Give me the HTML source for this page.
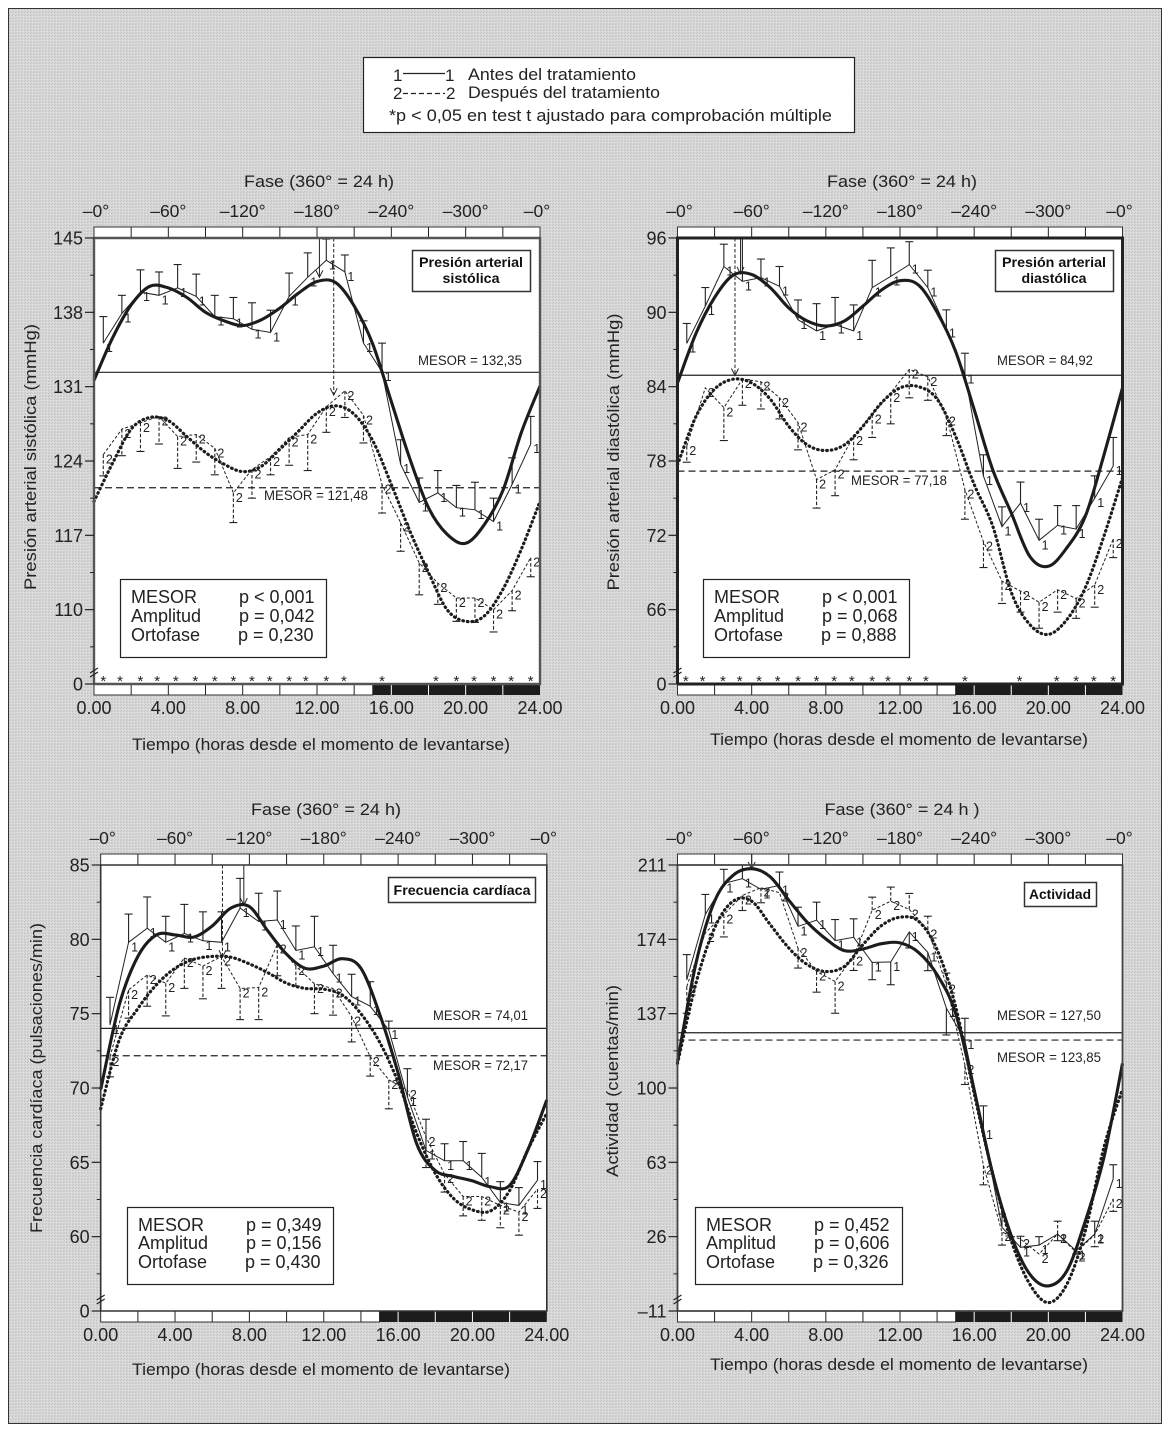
<!DOCTYPE html>
<html lang="es">
<head>
<meta charset="utf-8">
<title>Presión arterial, frecuencia cardíaca y actividad</title>
<style>
html,body{margin:0;padding:0;background:#fff;}
svg{display:block;}
text{font-family:"Liberation Sans",sans-serif;fill:#222;}
.t18{font-size:18px;}
.t17{font-size:17px;}
.mesor{font-size:13.5px;}
.bold{font-weight:bold;font-size:14px;fill:#111;}
</style>
</head>
<body>
<svg id="figure" xmlns="http://www.w3.org/2000/svg" width="1168" height="1429" viewBox="0 0 1168 1429">
  <defs>
    <pattern id="halftone" width="3" height="3" patternUnits="userSpaceOnUse">
      <rect width="3" height="3" fill="#d6d6d6"/>
      <rect x="0" y="0" width="1" height="1" fill="#c2c2c2"/>
      <rect x="2" y="1" width="1" height="1" fill="#e4e4e4"/>
      <rect x="1" y="2" width="1" height="1" fill="#c8c8c8"/>
    </pattern>
  </defs>
  <rect x="8.5" y="8.5" width="1153" height="1415" fill="url(#halftone)" stroke="#333" stroke-width="1"/>

  <g>
    <rect x="363.5" y="57.5" width="491" height="75" fill="#fff" stroke="#222" stroke-width="1.2"/>
    <text class="t17" x="393" y="81">1</text>
    <line x1="403" y1="73.5" x2="445" y2="73.5" stroke="#222" stroke-width="1.2"/>
    <text class="t17" x="445" y="81">1</text>
    <text class="t17" x="468" y="80" textLength="168" lengthAdjust="spacingAndGlyphs">Antes del tratamiento</text>
    <text class="t17" x="393" y="99">2</text>
    <line x1="403" y1="93.5" x2="445" y2="93.5" stroke="#222" stroke-width="1.3" stroke-dasharray="5 3"/>
    <text class="t17" x="446" y="99">2</text>
    <text class="t17" x="468" y="98" textLength="192" lengthAdjust="spacingAndGlyphs">Después del tratamiento</text>
    <text class="t17" x="389" y="121" textLength="443" lengthAdjust="spacingAndGlyphs">*p &lt; 0,05 en test t ajustado para comprobación múltiple</text>
  </g>

  <g id="panel-a"></g>
  <g id="panel-b"></g>
  <g id="panel-c"></g>
  <g id="panel-d"></g>

  <g>
    <text class="t17" x="319" y="187" text-anchor="middle" textLength="150" lengthAdjust="spacingAndGlyphs">Fase (360° = 24 h)</text>
    <text class="t17" x="321" y="750" text-anchor="middle" textLength="378" lengthAdjust="spacingAndGlyphs">Tiempo (horas desde el momento de levantarse)</text>
    <text class="t17" transform="translate(36,457) rotate(-90)" text-anchor="middle" textLength="266" lengthAdjust="spacingAndGlyphs">Presión arterial sistólica (mmHg)</text>
    <rect x="412.5" y="250.5" width="118" height="41" fill="#fff" stroke="#333" stroke-width="1.5"/>
    <text class="bold" x="471" y="267" text-anchor="middle" textLength="104" lengthAdjust="spacingAndGlyphs">Presión arterial</text>
    <text class="bold" x="471" y="283" text-anchor="middle" textLength="57" lengthAdjust="spacingAndGlyphs">sistólica</text>
    <text class="mesor" x="418" y="365" textLength="104" lengthAdjust="spacingAndGlyphs">MESOR = 132,35</text>
    <text class="mesor" x="264" y="500" textLength="104" lengthAdjust="spacingAndGlyphs">MESOR = 121,48</text>
    <rect x="120.5" y="579.5" width="206" height="78" fill="#fff" stroke="#222" stroke-width="1.2"/>
    <text class="t18" x="131" y="603">MESOR</text>
    <text class="t18" x="131" y="622">Amplitud</text>
    <text class="t18" x="131" y="641">Ortofase</text>
    <text class="t18" x="239" y="603">p &lt; 0,001</text>
    <text class="t18" x="239" y="622">p = 0,042</text>
    <text class="t18" x="238" y="641">p = 0,230</text>
  </g>

  <g>
    <text class="t17" x="902" y="187" text-anchor="middle" textLength="150" lengthAdjust="spacingAndGlyphs">Fase (360° = 24 h)</text>
    <text class="t17" x="899" y="745" text-anchor="middle" textLength="378" lengthAdjust="spacingAndGlyphs">Tiempo (horas desde el momento de levantarse)</text>
    <text class="t17" transform="translate(619,452) rotate(-90)" text-anchor="middle" textLength="277" lengthAdjust="spacingAndGlyphs">Presión arterial diastólica (mmHg)</text>
    <rect x="995.5" y="250.5" width="118" height="41" fill="#fff" stroke="#333" stroke-width="1.5"/>
    <text class="bold" x="1054" y="267" text-anchor="middle" textLength="104" lengthAdjust="spacingAndGlyphs">Presión arterial</text>
    <text class="bold" x="1054" y="283" text-anchor="middle" textLength="65" lengthAdjust="spacingAndGlyphs">diastólica</text>
    <text class="mesor" x="997" y="365" textLength="96" lengthAdjust="spacingAndGlyphs">MESOR = 84,92</text>
    <text class="mesor" x="851" y="485" textLength="96" lengthAdjust="spacingAndGlyphs">MESOR = 77,18</text>
    <rect x="703.5" y="579.5" width="206" height="78" fill="#fff" stroke="#222" stroke-width="1.2"/>
    <text class="t18" x="714" y="603">MESOR</text>
    <text class="t18" x="714" y="622">Amplitud</text>
    <text class="t18" x="714" y="641">Ortofase</text>
    <text class="t18" x="822" y="603">p &lt; 0,001</text>
    <text class="t18" x="822" y="622">p = 0,068</text>
    <text class="t18" x="821" y="641">p = 0,888</text>
  </g>

  <g>
    <text class="t17" x="326" y="815" text-anchor="middle" textLength="150" lengthAdjust="spacingAndGlyphs">Fase (360° = 24 h)</text>
    <text class="t17" x="321" y="1375" text-anchor="middle" textLength="378" lengthAdjust="spacingAndGlyphs">Tiempo (horas desde el momento de levantarse)</text>
    <text class="t17" transform="translate(42,1078) rotate(-90)" text-anchor="middle" textLength="310" lengthAdjust="spacingAndGlyphs">Frecuencia cardíaca (pulsaciones/min)</text>
    <rect x="388.5" y="877.5" width="147" height="25" fill="#fff" stroke="#333" stroke-width="1.5"/>
    <text class="bold" x="462" y="895" text-anchor="middle" textLength="137" lengthAdjust="spacingAndGlyphs">Frecuencia cardíaca</text>
    <text class="mesor" x="433" y="1020" textLength="95" lengthAdjust="spacingAndGlyphs">MESOR = 74,01</text>
    <text class="mesor" x="433" y="1070" textLength="95" lengthAdjust="spacingAndGlyphs">MESOR = 72,17</text>
    <rect x="127.5" y="1207.5" width="206" height="77" fill="#fff" stroke="#222" stroke-width="1.2"/>
    <text class="t18" x="138" y="1231">MESOR</text>
    <text class="t18" x="138" y="1249">Amplitud</text>
    <text class="t18" x="138" y="1268">Ortofase</text>
    <text class="t18" x="246" y="1231">p = 0,349</text>
    <text class="t18" x="246" y="1249">p = 0,156</text>
    <text class="t18" x="245" y="1268">p = 0,430</text>
  </g>

  <g>
    <text class="t17" x="902" y="815" text-anchor="middle" textLength="155" lengthAdjust="spacingAndGlyphs">Fase (360° = 24 h )</text>
    <text class="t17" x="899" y="1370" text-anchor="middle" textLength="378" lengthAdjust="spacingAndGlyphs">Tiempo (horas desde el momento de levantarse)</text>
    <text class="t17" transform="translate(618,1081) rotate(-90)" text-anchor="middle" textLength="192" lengthAdjust="spacingAndGlyphs">Actividad (cuentas/min)</text>
    <rect x="1024.5" y="882.5" width="72" height="24" fill="#fff" stroke="#333" stroke-width="1.5"/>
    <text class="bold" x="1060" y="899" text-anchor="middle" textLength="62" lengthAdjust="spacingAndGlyphs">Actividad</text>
    <text class="mesor" x="997" y="1020" textLength="104" lengthAdjust="spacingAndGlyphs">MESOR = 127,50</text>
    <text class="mesor" x="997" y="1062" textLength="104" lengthAdjust="spacingAndGlyphs">MESOR = 123,85</text>
    <rect x="695.5" y="1207.5" width="207" height="77" fill="#fff" stroke="#222" stroke-width="1.2"/>
    <text class="t18" x="706" y="1231">MESOR</text>
    <text class="t18" x="706" y="1249">Amplitud</text>
    <text class="t18" x="706" y="1268">Ortofase</text>
    <text class="t18" x="814" y="1231">p = 0,452</text>
    <text class="t18" x="814" y="1249">p = 0,606</text>
    <text class="t18" x="813" y="1268">p = 0,326</text>
  </g>
</svg>

<script>
// Shared categories and tick labels
const sampleHours = [0.5,1.5,2.5,3.5,4.5,5.5,6.5,7.5,8.5,9.5,10.5,11.5,12.5,13.5,14.5,15.5,16.5,17.5,18.5,19.5,20.5,21.5,22.5,23.5];
const fitHours = [0,1,2,3,4,5,6,7,8,9,10,11,12,13,14,15,16,17,18,19,20,21,22,23,24];
const timeTicks = [0,4,8,12,16,20,24];
const timeTickLabels = ['0.00','4.00','8.00','12.00','16.00','20.00','24.00'];
const phaseTickLabels = ['–0°','–60°','–120°','–180°','–240°','–300°','–0°'];
const bandTicks = [2,4,6,8,10,12,14,16,18,20,22];
const nightStartHour = [15];

// Systolic blood pressure
const sysTicks = [145,138,131,124,117,110,103];
const sysTickLabels = ['145','138','131','124','117','110','0'];
const sysBefore = [135.1,137.9,139.9,139.6,140.3,139.5,137.6,137.4,136.4,136.1,139.5,141.3,142.9,141.8,135.1,132.4,123.7,120.1,121,119.6,119.4,118.3,121.8,125.6];
const sysBeforeCaps = [137.6,139.6,142,141.8,142.5,141.6,139.6,139.4,138.9,138.2,141.7,143.6,144.9,143.4,137.2,135.1,126,122.4,123.1,121.7,122,120.5,124.3,128.2];
const sysAfter = [124.6,127,127.6,128.2,126.3,126.5,125.2,121,123.2,124.4,126.2,126.5,129.1,130.6,128.3,121.8,118.2,114.4,112.5,111.1,111.1,110,111.8,114.9];
const sysAfterCaps = [122.6,124.5,124.9,125.6,123.3,123.9,122.7,118.2,120.5,122.7,123.6,123.1,126.7,128.1,125.7,119.1,115.5,111.4,110.5,108.9,108.8,107.9,109.9,113.1];
const sysFitBefore = [131.6,135.6,138.7,140.45,140.3,139.4,138,137.2,136.75,137.3,138.4,139.8,140.9,140.8,138.6,135,129.6,124.2,119.6,117.1,116.25,118,121.2,126.7,131.05];
const sysFitAfter = [120.2,123.8,127,128.1,127.8,126.3,124.8,123.7,123,123.5,125.1,126.8,128.5,129.2,128.4,125.9,121.8,117.4,113.5,110,108.9,109.4,111.9,115.7,120.2];
const sysMesors = [132.35,121.48];
const sysSignificantHours = [0.5,1.4,2.5,3.4,4.4,5.45,6.5,7.5,8.5,9.45,10.5,11.4,12.5,13.45,15.5,18.4,19.5,20.45,21.5,22.45,23.5];
const sysPeakHours = [12.13,12.9];
const sysPeakValues = [141.3,130.2];

// Diastolic blood pressure
const diaTicks = [96,90,84,78,72,66,60];
const diaTickLabels = ['96','90','84','78','72','66','0'];
const diaBefore = [87.5,90.5,93.7,92.5,92.8,92.1,89.4,88.5,89,88.5,92,92.9,93.85,92,88.7,85,76.8,72.7,74.6,71.6,72.8,72.5,75,77.6];
const diaBeforeCaps = [89.1,92,95.5,96,94.3,93.7,91,90.7,91.2,90.6,94.2,95.2,95.7,93.4,90.2,86.7,78.5,74.3,76.3,73.3,74.4,74.4,76.8,79.9];
const diaAfter = [79.2,83.9,82.3,84.6,84.4,83.1,81.1,76.5,77.3,80,81.75,83.5,85.4,84.8,81.6,75.7,71.5,68.3,67.5,66.6,67.6,66.9,68,71.7];
const diaAfterCaps = [77.9,null,79.65,82.5,82.2,81.4,78.9,74.2,75.2,78.1,79.9,81,83.1,82.9,80.05,73.3,69.4,66.5,65.8,64.5,65.8,65.3,66.2,70.2];
const diaFitBefore = [84.3,88.3,91.2,93,93.05,92,90.35,89.3,88.9,89.3,90.5,91.8,92.55,92.2,90,86.85,82.15,77.3,73.8,70.3,69.5,71,73.55,78.5,83.9];
const diaFitAfter = [77.7,81.6,83.8,84.6,84.3,83,80.8,79.3,78.85,79.3,80.8,82.7,83.9,84,83,80,76.1,72.75,67.4,64.8,64,65.2,67.8,71.95,76.65];
const diaMesors = [84.92,77.18];
const diaSignificantHours = [0.45,1.35,2.45,3.35,4.4,5.4,6.5,7.5,8.45,9.4,10.5,11.35,12.5,13.4,15.5,18.45,20.45,21.5,22.45,23.5];
const diaPeakHours = [3.4,3.1];
const diaPeakValues = [93.1,84.9];

// Heart rate
const hrTicks = [85,80,75,70,65,60,55];
const hrTickLabels = ['85','80','75','70','65','60','0'];
const hrBefore = [74.25,79.8,80.75,79.8,80.4,79.9,79.8,82.1,81.2,81.3,79.25,79.5,77.7,76.15,75.5,73.9,69.4,65.8,65.1,65.1,64,62.3,62.1,63.8];
const hrBeforeCaps = [76.1,81.7,82.85,81.55,82.35,81.85,81.85,84.1,83.1,83.25,80.9,81.55,79.6,77.65,77.15,74.5,71.3,67.9,66.25,66.4,65.6,63.7,63.3,65.05];
const hrAfter = [72.1,76.6,77.6,77.05,78.75,78.2,78.85,76.7,76.75,79.65,78.2,77,76.7,74.8,72.1,70.55,69.85,66.7,64.2,62.7,62.7,62.1,61.65,63.2];
const hrAfterCaps = [70.75,74.7,75.5,74.85,76.7,76,76.7,74.6,74.6,77.55,76.85,75,74.9,73.1,70.8,68.6,null,64.65,63,61.4,61.1,60.6,60.1,61.9];
const hrFitBefore = [69.9,75.6,78.85,80.3,80.3,80.15,80.9,82.1,82.2,80.55,79,78.05,78.2,78.7,78.05,75,71,66.25,64.45,64.05,63.75,63.35,63.45,65.9,69.2];
const hrFitAfter = [68.6,73.25,75.35,76.95,78.05,78.65,78.85,78.8,78.35,77.75,77.05,76.7,76.65,76.25,75,73.1,70.4,66.95,64.25,62.55,61.8,61.75,63.1,65.9,68.3];
const hrMesors = [74.01,72.17];
const hrSignificantHours = [];
const hrPeakHours = [7.7,6.55];
const hrPeakValues = [82.3,78.8];

// Activity
const actTicks = [211,174,137,100,63,26,-11];
const actTickLabels = ['211','174','137','100','63','26','–11'];
const actBefore = [153.9,186.35,201.85,204.2,198.85,200.85,180.5,183.5,173.35,175,162.5,162.7,177.7,167.5,139.7,123.9,79,30.6,20.7,21.8,27.3,19,27.3,54.8];
const actBeforeCaps = [166.4,196.35,208.85,211,null,207.5,190,192.5,183.85,184.2,153.9,151.4,169.7,158.4,126.4,134.7,91.1,37.3,26.2,26,24,17.3,33.7,61.8];
const actAfter = [150.55,177.2,186.35,195.85,199.7,197.2,169.7,158,153,165.5,188.5,193,188.85,178.85,151.4,111.4,61.5,28.2,24.8,17.3,27.3,18.2,27,44.8];
const actAfterCaps = [137.2,null,175.2,188.35,192.2,null,159.7,147.7,137.2,158.5,195,200,196.85,185.5,157.2,101.75,51.8,21.8,null,null,33.7,null,21,38.6];
const actFitBefore = [113.1,162.2,193,205.85,209.15,205.15,193.5,182.5,174.2,168.4,169.2,171.85,172.2,167.5,156.4,137.2,98.9,57.3,26.5,7.3,1.5,9,33.9,65.6,112.25];
const actFitAfter = [112.25,152.2,179.7,193,193,181.35,169.7,161.4,158,160.55,171.35,180.85,185,183,168.85,140.55,97.3,57.3,24,2.35,-6.8,2.35,29,70.6,99.5];
const actMesors = [127.5,123.85];
const actSignificantHours = [];
const actPeakHours = [4];
const actPeakValues = [209];

const NS = 'http://www.w3.org/2000/svg';
const INK = '#222';

function mk(tag, attrs, parent) {
  const el = document.createElementNS(NS, tag);
  for (const k in attrs) el.setAttribute(k, attrs[k]);
  parent.appendChild(el);
  return el;
}

function smoothPath(pts) {
  let d = 'M' + pts[0][0].toFixed(1) + ' ' + pts[0][1].toFixed(1);
  for (let i = 0; i < pts.length - 1; i++) {
    const p0 = pts[Math.max(0, i - 1)], p1 = pts[i], p2 = pts[i + 1], p3 = pts[Math.min(pts.length - 1, i + 2)];
    const c1x = p1[0] + (p2[0] - p0[0]) / 6, c1y = p1[1] + (p2[1] - p0[1]) / 6;
    const c2x = p2[0] - (p3[0] - p1[0]) / 6, c2y = p2[1] - (p3[1] - p1[1]) / 6;
    d += 'C' + c1x.toFixed(1) + ' ' + c1y.toFixed(1) + ' ' + c2x.toFixed(1) + ' ' + c2y.toFixed(1) + ' ' + p2[0].toFixed(1) + ' ' + p2[1].toFixed(1);
  }
  return d;
}

function drawPanel(cfg) {
  const g = document.getElementById(cfg.id);
  const xAt = function (h) { return cfg.left + h / 24 * (cfg.right - cfg.left); };
  const yMax = cfg.ticks[0];
  const yMin = cfg.ticks[cfg.ticks.length - 1];
  const yAt = function (v) { return cfg.top + (yMax - v) / (yMax - yMin) * (cfg.bottom - cfg.top); };
  const bandH = 11;

  const plot = mk('rect', {x: cfg.left, y: cfg.top, width: cfg.right - cfg.left, height: cfg.bottom - cfg.top, fill: '#fff'}, g);
  
  

  const topBand = mk('rect', {x: cfg.left, y: cfg.top - bandH, width: cfg.right - cfg.left, height: bandH, fill: '#fff', stroke: '#333', 'stroke-width': 1}, g);
  
  

  const dayBand = mk('rect', {x: cfg.left, y: cfg.bottom, width: xAt(nightStartHour[0]) - cfg.left, height: bandH, fill: '#fff', stroke: '#333', 'stroke-width': 1}, g);
  
  

  const nightBand = mk('rect', {x: xAt(nightStartHour[0]), y: cfg.bottom, width: cfg.right - xAt(nightStartHour[0]), height: bandH, fill: '#1c1c1c'}, g);
  
  

  bandTicks.forEach(function (h) {
    const tickTop = mk('line', {x1: xAt(h), x2: xAt(h), y1: cfg.top - bandH, y2: cfg.top, stroke: INK, 'stroke-width': 1}, g);
    
    
    const tickBottom = mk('line', {x1: xAt(h), x2: xAt(h), y1: cfg.bottom, y2: cfg.bottom + bandH, stroke: h > nightStartHour[0] ? '#fff' : INK, 'stroke-width': 1}, g);
    
    
  });

  // MESOR lines
  cfg.mesors.forEach(function (m, i) {
    const line = mk('line', {x1: cfg.left, x2: cfg.right, y1: yAt(m), y2: yAt(m), stroke: INK, 'stroke-width': 1.2}, g);
    if (i === 1) line.setAttribute('stroke-dasharray', '7 4');
    
    
  });

  // Acrophase markers
  cfg.peakHours.forEach(function (h, i) {
    const px = xAt(h), py = yAt(cfg.peakValues[i]);
    const drop = mk('line', {x1: px, x2: px, y1: cfg.top - (cfg.id === 'panel-d' ? 11 : 0), y2: py, stroke: INK, 'stroke-width': 1}, g);
    if (i === 1) drop.setAttribute('stroke-dasharray', '3.5 2');
    
    
    const head = mk('path', {d: 'M' + (px - 3.5) + ' ' + (py - 7) + 'L' + px + ' ' + py + 'L' + (px + 3.5) + ' ' + (py - 7), fill: 'none', stroke: INK, 'stroke-width': 1}, g);
    
    
  });

  // Observed series with error bars
  const seriesList = [
    {values: cfg.before, caps: cfg.beforeCaps, label: '1', dash: null, w: 1},
    {values: cfg.after, caps: cfg.afterCaps, label: '2', dash: '3 2', w: 1}
  ];
  seriesList.forEach(function (s) {
    s.values.forEach(function (v, i) {
      const cap = s.caps[i];
      if (cap === null) return;
      const px = xAt(sampleHours[i]);
      const bar = mk('line', {x1: px, x2: px, y1: yAt(v), y2: yAt(cap), stroke: INK, 'stroke-width': 1.1}, g);
      if (s.dash) bar.setAttribute('stroke-dasharray', '3.5 2');
      
      
      const capLine = mk('line', {x1: px - 4, x2: px + 4, y1: yAt(cap), y2: yAt(cap), stroke: INK, 'stroke-width': 1.1}, g);
      
      
    });
    const points = s.values.map(function (v, i) { return xAt(sampleHours[i]).toFixed(1) + ',' + yAt(v).toFixed(1); }).join(' ');
    const poly = mk('polyline', {points: points, fill: 'none', stroke: INK, 'stroke-width': s.w}, g);
    if (s.dash) poly.setAttribute('stroke-dasharray', s.dash);
    
    
  });

  // Fitted curves
  const fitSolid = mk('path', {d: smoothPath(cfg.fitBefore.map(function (v, i) { return [xAt(fitHours[i]), yAt(v)]; })), fill: 'none', stroke: '#1c1c1c', 'stroke-width': 3.1, 'stroke-linejoin': 'round'}, g);
  
  

  const fitDotted = mk('path', {d: smoothPath(cfg.fitAfter.map(function (v, i) { return [xAt(fitHours[i]), yAt(v)]; })), fill: 'none', stroke: '#1c1c1c', 'stroke-width': 3.2, 'stroke-linecap': 'round', 'stroke-dasharray': '0.6 4'}, g);
  
  

  // Point labels "1" / "2"
  seriesList.forEach(function (s) {
    s.values.forEach(function (v, i) {
      const lab = mk('text', {x: xAt(sampleHours[i]) + 6, y: yAt(v) + 9, 'text-anchor': 'middle', 'font-size': 12.5}, g);
      lab.textContent = s.label;
      
      
    });
  });

  // Significance asterisks
  cfg.significant.forEach(function (h) {
    const star = mk('text', {x: xAt(h), y: cfg.bottom + 2, 'text-anchor': 'middle', 'font-size': 15}, g);
    star.textContent = '*';
    
    
  });

  // Frame
  const frame = mk('path', {d: 'M' + cfg.left + ' ' + cfg.bottom + 'V' + cfg.top + 'H' + cfg.right + 'V' + cfg.bottom + 'H' + cfg.left, fill: 'none', stroke: cfg.frameColor, 'stroke-width': cfg.frameWidth}, g);
  
  

  // Axis break marks
  const brk = mk('path', {d: 'M' + (cfg.left - 4) + ' ' + (cfg.bottom - 11) + 'l8 -5M' + (cfg.left - 4) + ' ' + (cfg.bottom - 7) + 'l8 -5', fill: 'none', stroke: INK, 'stroke-width': 1.2}, g);
  
  

  // Y axis ticks & labels
  cfg.ticks.forEach(function (v, i) {
    const y = yAt(v);
    const tick = mk('line', {x1: cfg.left - 9, x2: cfg.left, y1: y, y2: y, stroke: INK, 'stroke-width': 1.2}, g);
    
    
    const lab = mk('text', {x: cfg.left - 11, y: y + 6.5, 'text-anchor': 'end', 'font-size': 18}, g);
    lab.textContent = cfg.tickLabels[i];
    
    
    if (i < cfg.ticks.length - 1) {
      const yMid = yAt((v + cfg.ticks[i + 1]) / 2);
      if (i < cfg.ticks.length - 2 || true) {
        const minor = mk('line', {x1: cfg.left - 4, x2: cfg.left, y1: yMid, y2: yMid, stroke: INK, 'stroke-width': 1}, g);
        
        
      }
    }
  });

  // Time and phase labels
  timeTicks.forEach(function (h, i) {
    const t = mk('text', {x: xAt(h), y: cfg.bottom + 30, 'text-anchor': 'middle', 'font-size': 18}, g);
    t.textContent = timeTickLabels[i];
    
    
    const shift = i === 0 ? 2 : (i === timeTicks.length - 1 ? -3 : 0);
    const ph = mk('text', {x: xAt(h) + shift, y: cfg.top - 21, 'text-anchor': 'middle', 'font-size': 17.5}, g);
    ph.textContent = phaseTickLabels[i];
    
    
  });
}

drawPanel({id: 'panel-a', left: 94, right: 540, top: 238, bottom: 684, frameColor: '#555', frameWidth: 2.4,
  ticks: sysTicks, tickLabels: sysTickLabels, before: sysBefore, beforeCaps: sysBeforeCaps, after: sysAfter, afterCaps: sysAfterCaps,
  fitBefore: sysFitBefore, fitAfter: sysFitAfter, mesors: sysMesors, significant: sysSignificantHours, peakHours: sysPeakHours, peakValues: sysPeakValues});
drawPanel({id: 'panel-b', left: 677.5, right: 1122.5, top: 238, bottom: 684, frameColor: '#222', frameWidth: 3,
  ticks: diaTicks, tickLabels: diaTickLabels, before: diaBefore, beforeCaps: diaBeforeCaps, after: diaAfter, afterCaps: diaAfterCaps,
  fitBefore: diaFitBefore, fitAfter: diaFitAfter, mesors: diaMesors, significant: diaSignificantHours, peakHours: diaPeakHours, peakValues: diaPeakValues});
drawPanel({id: 'panel-c', left: 100.7, right: 546.8, top: 865, bottom: 1311, frameColor: '#333', frameWidth: 1.6,
  ticks: hrTicks, tickLabels: hrTickLabels, before: hrBefore, beforeCaps: hrBeforeCaps, after: hrAfter, afterCaps: hrAfterCaps,
  fitBefore: hrFitBefore, fitAfter: hrFitAfter, mesors: hrMesors, significant: hrSignificantHours, peakHours: hrPeakHours, peakValues: hrPeakValues});
drawPanel({id: 'panel-d', left: 677.5, right: 1122.5, top: 865, bottom: 1311, frameColor: '#444', frameWidth: 1.8,
  ticks: actTicks, tickLabels: actTickLabels, before: actBefore, beforeCaps: actBeforeCaps, after: actAfter, afterCaps: actAfterCaps,
  fitBefore: actFitBefore, fitAfter: actFitAfter, mesors: actMesors, significant: actSignificantHours, peakHours: actPeakHours, peakValues: actPeakValues});
</script>
</body>
</html>
